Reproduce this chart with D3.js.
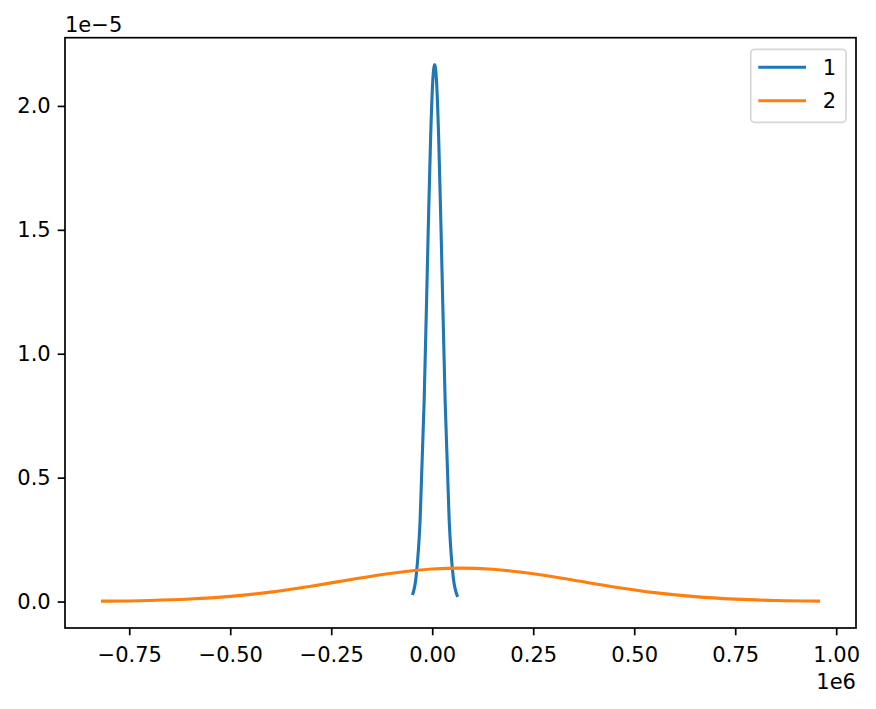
<!DOCTYPE html>
<html>
<head>
<meta charset="utf-8">
<script src="https://cdn.jsdelivr.net/npm/d3@7"></script>
<style>
	body { margin: 0; background: #fff; }
	svg text { font-family: "DejaVu Sans", sans-serif; fill: #000; }
</style>
</head>
<body>
<svg id="chart" width="876" height="709"></svg>
<script>
// values (x in 1e6, y in 1e-5)
const series1X = [-0.049, -0.040, -0.030, -0.020, -0.010, -0.004, 0.001, 0.006, 0.011, 0.016, 0.022, 0.032, 0.042, 0.052, 0.063];
const series1Y = [0.026, 0.099, 0.327, 0.807, 1.49, 1.87, 2.09, 2.167, 2.09, 1.87, 1.49, 0.807, 0.327, 0.099, 0.019];

const series2X = [-0.82, -0.70, -0.60, -0.50, -0.40, -0.30, -0.20, -0.10, 0.00, 0.07, 0.15, 0.25, 0.35, 0.45, 0.55, 0.65, 0.75, 0.85, 0.96];
const series2Y = [0.0015, 0.0045, 0.0103, 0.021, 0.038, 0.062, 0.089, 0.114, 0.131, 0.135, 0.130, 0.112, 0.086, 0.059, 0.036, 0.0197, 0.0096, 0.0041, 0.0015];

const seriesNames = ["1", "2"];
const seriesColors = ["#1f77b4", "#ff7f0e"];

const xTicks = [-0.75, -0.50, -0.25, 0.00, 0.25, 0.50, 0.75, 1.00];
const yTicks = [0.0, 0.5, 1.0, 1.5, 2.0];

const margin = {left: 65, right: 856, top: 37.7, bottom: 628};
const fontSize = 21;

const svg = d3.select("#chart");

const series = [
	series1X.map((x, i) => [x, series1Y[i]]),
	series2X.map((x, i) => [x, series2Y[i]])
];

// matplotlib style 5% padding
function padded(ext) {
	const p = (ext[1] - ext[0]) * 0.05;
	return [ext[0] - p, ext[1] + p];
}
const xExt = d3.extent(series1X.concat(series2X));
const yExt = d3.extent(series1Y.concat(series2Y));

const x = d3.scaleLinear().domain(padded(xExt)).range([margin.left, margin.right]);
const y = d3.scaleLinear().domain(padded(yExt)).range([margin.bottom, margin.top]);

const fmt = v => d3.format(".2f")(v).replace("-", "\u2212");
const fmtY = v => d3.format(".1f")(v);

// lines
const line = d3.line()
	.x(d => x(d[0]))
	.y(d => y(d[1]))
	.curve(d3.curveMonotoneX);

svg.append("g")
	.attr("clip-path", null)
	.selectAll("path")
	.data(series)
	.join("path")
	.attr("d", line)
	.attr("fill", "none")
	.attr("stroke", (d, i) => seriesColors[i])
	.attr("stroke-width", 3.1)
	.attr("stroke-linecap", "butt");

// axes
const xAxis = svg.append("g")
	.attr("transform", `translate(0,${margin.bottom})`)
	.call(d3.axisBottom(x).tickValues(xTicks).tickFormat(fmt).tickSize(7.3).tickPadding(7).tickSizeOuter(0));
const yAxis = svg.append("g")
	.attr("transform", `translate(${margin.left},0)`)
	.call(d3.axisLeft(y).tickValues(yTicks).tickFormat(fmtY).tickSize(7.3).tickPadding(7).tickSizeOuter(0));

[xAxis, yAxis].forEach(a => {
	a.select(".domain").remove();
	a.selectAll(".tick line").attr("stroke", "#000").attr("stroke-width", 1.7);
	a.selectAll(".tick text").attr("font-size", fontSize).attr("font-family", "DejaVu Sans");
});
xAxis.selectAll(".tick text").attr("dy", "0.95em");

// spines
svg.append("rect")
	.attr("x", margin.left)
	.attr("y", margin.top)
	.attr("width", margin.right - margin.left)
	.attr("height", margin.bottom - margin.top)
	.attr("fill", "none")
	.attr("stroke", "#000")
	.attr("stroke-width", 1.7);

// offset texts
svg.append("text")
	.attr("x", margin.left)
	.attr("y", 31.5)
	.attr("font-size", fontSize)
	.text("1e\u22125");
svg.append("text")
	.attr("x", margin.right)
	.attr("y", 689)
	.attr("text-anchor", "end")
	.attr("font-size", fontSize)
	.text("1e6");

// legend
const legend = svg.append("g");
legend.append("rect")
	.attr("x", 750.7)
	.attr("y", 49.3)
	.attr("width", 95.3)
	.attr("height", 73)
	.attr("rx", 4)
	.attr("fill", "#fff")
	.attr("fill-opacity", 0.8)
	.attr("stroke", "#d6d6d6")
	.attr("stroke-width", 1.7);

const rows = legend.selectAll("g.row")
	.data(seriesNames)
	.join("g")
	.attr("class", "row")
	.attr("transform", (d, i) => `translate(0,${67.3 + i * 33.4})`);
rows.append("line")
	.attr("x1", 758.3)
	.attr("x2", 806)
	.attr("stroke", (d, i) => seriesColors[i])
	.attr("stroke-width", 3.1);
rows.append("text")
	.attr("x", 822.7)
	.attr("dy", "0.36em")
	.attr("font-size", fontSize)
	.text(d => d);
</script>
</body>
</html>
